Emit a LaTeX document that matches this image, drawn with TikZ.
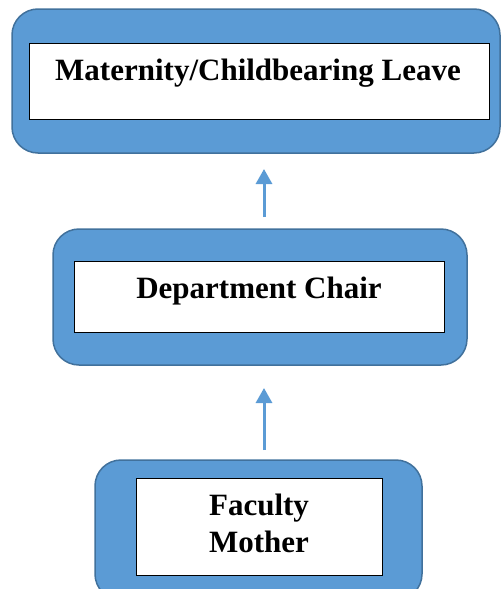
\documentclass[tikz,border=0pt]{standalone}
\usepackage{fontspec}
\setmainfont{Liberation Serif}
\usetikzlibrary{arrows.meta}
\definecolor{boxblue}{HTML}{5B9BD5}
\definecolor{boxedge}{HTML}{41719C}
\tikzset{
  outerbox/.style={draw=boxedge, line width=1.5pt, fill=boxblue, rounded corners=26pt},
  innerbox/.style={draw=black, line width=0.9pt, fill=white},
  label/.style={font=\bfseries\fontsize{31}{37}\selectfont, align=center, inner sep=0pt},
  arr/.style={draw=boxblue, line width=3pt, -{Triangle[width=16pt,length=15pt]}}
}
\begin{document}
\begin{tikzpicture}[x=1pt,y=-1pt]
\useasboundingbox (0,0) rectangle (502,589);
% top
\path[outerbox] (12,9) rectangle (500,153);
\node[innerbox, minimum width=460pt, minimum height=76pt, inner sep=0pt] (topin) at (259,81) {};
\node[label, anchor=base] (toptext) at (258,80) {Maternity/Childbearing Leave};
% middle
\path[outerbox] (53,229) rectangle (467,365);
\node[innerbox, minimum width=370pt, minimum height=71pt, inner sep=0pt] (midin) at (259,296.5) {};
\node[label, anchor=base] (midtext) at (259,298) {Department Chair};
% bottom
\path[outerbox] (95,460) rectangle (422,600);
\node[innerbox, minimum width=246pt, minimum height=97pt, inner sep=0pt] (botin) at (259,526.5) {};
\node[label] (bottext) at (259,523) {Faculty\\Mother};
% arrows
\coordinate (a1s) at (264,217);
\coordinate (a1e) at (264,169);
\coordinate (a2s) at (264,450);
\coordinate (a2e) at (264,388);
\draw[arr] (a1s) -- (a1e);
\draw[arr] (a2s) -- (a2e);
\end{tikzpicture}
\end{document}
